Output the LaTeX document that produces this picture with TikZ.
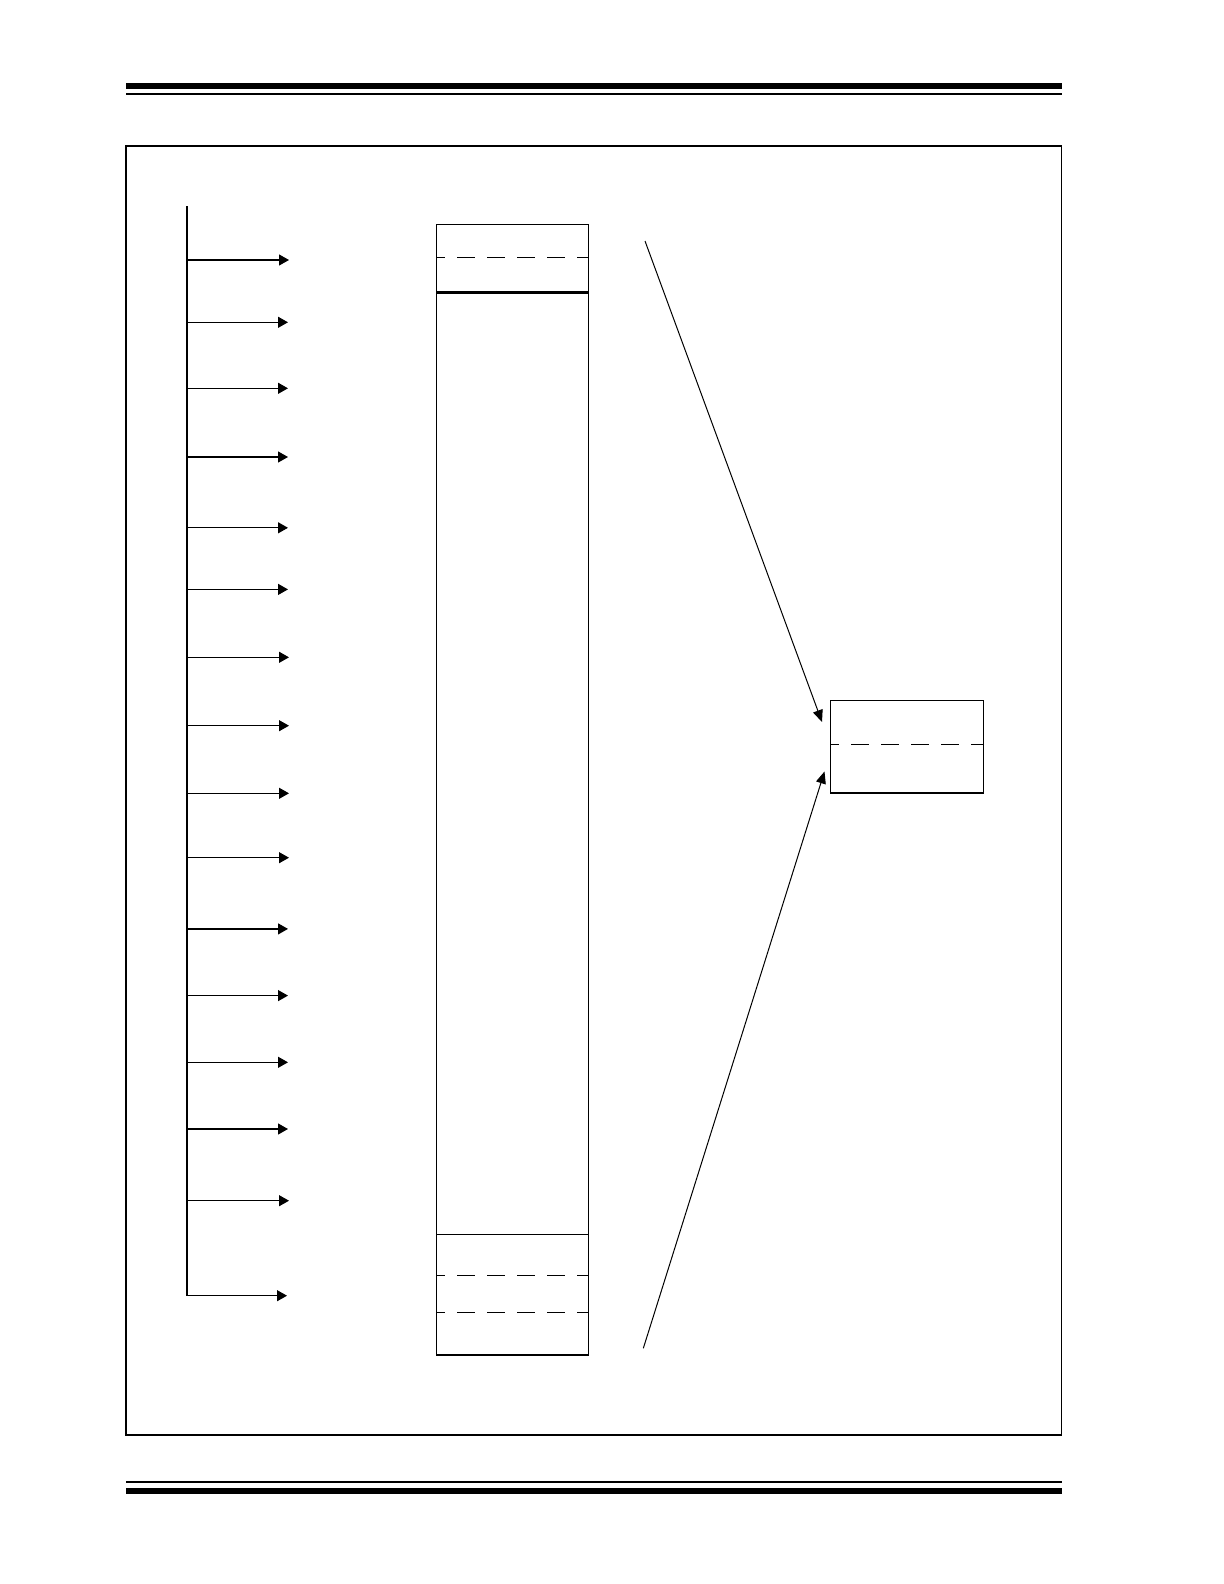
\documentclass[tikz,border=0pt]{standalone}
\usetikzlibrary{arrows.meta}

\tikzset{
  frameline/.style={line width=0.75pt},
  cellline/.style={line width=0.65pt},
  heavyline/.style={line width=1.3pt},
  dashrule/.style={line width=0.6pt, dash pattern=on 9pt off 6pt, dash phase=4.5pt},
  busarrow/.style={line width=0.6pt, -{Triangle[length=5pt,width=5.5pt]}},
  feedarrow/.style={line width=0.5pt, -{Triangle[length=6pt,width=5pt]}},
}

\begin{document}
\begin{tikzpicture}[x=0.5pt,y=-0.5pt]

    % Page size in pixels of the reference
    \useasboundingbox (0,0) rectangle (1224,1584);

    % Header and footer rules
    \fill (126,82.7) rectangle (1062,88.7);    % Header thick rule
    \fill (126,92.7) rectangle (1062,94.7);    % Header thin rule
    \fill (126,1480.7) rectangle (1062,1482.7);% Footer thin rule
    \fill (126,1487.7) rectangle (1062,1494);  % Footer thick rule

    % Outer frame
    \draw[frameline] (126,146) rectangle (1061.5,1435);

    % Define the coordinates for the bus line
    \coordinate (BusTop) at (187,206);          % Top of the bus
    \coordinate (BusEnd) at (187,1295.7);       % Bottom of the bus

    % Draw the bus line
    \draw[cellline] (BusTop) -- (BusEnd);

    % Define the coordinates for the arrow tips
    \coordinate (Out1)  at (289,260);
    \coordinate (Out2)  at (288,322.3);
    \coordinate (Out3)  at (288,388.3);
    \coordinate (Out4)  at (288,457);
    \coordinate (Out5)  at (288,527.8);
    \coordinate (Out6)  at (288,589.4);
    \coordinate (Out7)  at (289,657.3);
    \coordinate (Out8)  at (289,725.7);
    \coordinate (Out9)  at (289,793.3);
    \coordinate (Out10) at (289,857.7);
    \coordinate (Out11) at (288,928.9);
    \coordinate (Out12) at (288,995.6);
    \coordinate (Out13) at (288,1062.3);
    \coordinate (Out14) at (288,1129);
    \coordinate (Out15) at (289,1200.7);
    \coordinate (Out16) at (287,1295.7);

    % Draw the arrows leaving the bus
    \draw[busarrow] (BusTop |- Out1)  -- (Out1);
    \draw[busarrow] (BusTop |- Out2)  -- (Out2);
    \draw[busarrow] (BusTop |- Out3)  -- (Out3);
    \draw[busarrow] (BusTop |- Out4)  -- (Out4);
    \draw[busarrow] (BusTop |- Out5)  -- (Out5);
    \draw[busarrow] (BusTop |- Out6)  -- (Out6);
    \draw[busarrow] (BusTop |- Out7)  -- (Out7);
    \draw[busarrow] (BusTop |- Out8)  -- (Out8);
    \draw[busarrow] (BusTop |- Out9)  -- (Out9);
    \draw[busarrow] (BusTop |- Out10) -- (Out10);
    \draw[busarrow] (BusTop |- Out11) -- (Out11);
    \draw[busarrow] (BusTop |- Out12) -- (Out12);
    \draw[busarrow] (BusTop |- Out13) -- (Out13);
    \draw[busarrow] (BusTop |- Out14) -- (Out14);
    \draw[busarrow] (BusTop |- Out15) -- (Out15);
    \draw[busarrow] (BusEnd) -- (Out16);

    % Define the coordinates for the tall column
    \coordinate (ColTL) at (436.3,224.3);       % Top left corner
    \coordinate (ColBR) at (588.5,1355);        % Bottom right corner

    % Draw the tall column and its cells
    \draw[cellline] (ColTL) rectangle (ColBR);
    \draw[dashrule] (ColTL |- 0,257.3) -- (ColBR |- 0,257.3);    % Upper dashed rule
    \draw[heavyline] (ColTL |- 0,292.7) -- (ColBR |- 0,292.7);   % Heavy rule under top cell
    \draw[cellline] (ColTL |- 0,1234.2) -- (ColBR |- 0,1234.2);  % Rule over bottom cell
    \draw[dashrule] (ColTL |- 0,1275.5) -- (ColBR |- 0,1275.5);  % Lower dashed rule 1
    \draw[dashrule] (ColTL |- 0,1312.5) -- (ColBR |- 0,1312.5);  % Lower dashed rule 2

    % Define the coordinates for the small register
    \coordinate (RegTL) at (830.3,700.3);       % Top left corner
    \coordinate (RegBR) at (983.3,793);         % Bottom right corner

    % Draw the small register
    \draw[cellline] (RegTL) rectangle (RegBR);
    \draw[dashrule] (RegTL |- 0,744.3) -- (RegBR |- 0,744.3);    % Dashed rule

    % Define the coordinates for the feed lines
    \coordinate (FeedA) at (645,241);           % Upper free end
    \coordinate (TipA)  at (822,722);           % Upper tip
    \coordinate (FeedB) at (643.3,1348.3);      % Lower free end
    \coordinate (TipB)  at (824.5,771.5);       % Lower tip

    % Draw the feed lines
    \draw[feedarrow] (FeedA) -- (TipA);
    \draw[feedarrow] (FeedB) -- (TipB);

\end{tikzpicture}
\end{document}
